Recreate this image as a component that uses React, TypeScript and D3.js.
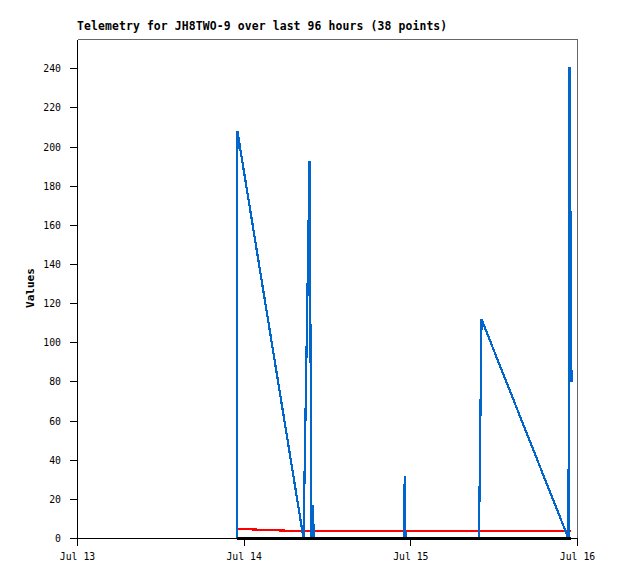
import React from "react";
import * as d3 from "d3";

const times: string[] = [
  "2023-07-13T22:56", "2023-07-13T23:02", "2023-07-14T08:33", "2023-07-14T09:25",
  "2023-07-14T09:42", "2023-07-14T09:53", "2023-07-14T10:02", "2023-07-14T23:01",
  "2023-07-14T23:07", "2023-07-14T23:14", "2023-07-15T09:49", "2023-07-15T10:11",
  "2023-07-15T22:42", "2023-07-15T22:51", "2023-07-15T23:08",
];
const blueValues: number[] = [0, 208, 0, 193, 0, 17, 0, 0, 32, 0, 0, 112, 0, 241, 80];
const redValues: number[] = [4.9, 4.9, 3.7, 3.7, 3.7, 3.7, 3.7, 3.7, 3.7, 3.7, 3.7, 3.7, 3.7, 3.7, 3.7];
const blackValues: number[] = [0, 0, 0, 0, 0, 0, 0, 0, 0, 0, 0, 0, 0, 0, 0];
const yTicks: number[] = [0, 20, 40, 60, 80, 100, 120, 140, 160, 180, 200, 220, 240];
const xTickDates: string[] = ["2023-07-13T00:00", "2023-07-14T00:00", "2023-07-15T00:00", "2023-07-16T00:00"];
const title = "Telemetry for JH8TWO-9 over last 96 hours (38 points)";

const W = 618, H = 579;
const L = 77.5, R = 577.5, T = 39.5, B = 538.5;

export default function App() {
  const parse = (s: string) => new Date(s);
  const x = d3.scaleTime().domain([parse(xTickDates[0]), parse(xTickDates[3])]).range([L, R]);
  const y = d3.scaleLinear().domain([0, 255]).range([B, T]);
  const fmt = d3.timeFormat("%b %-d");
  const mk = (vals: number[]) =>
    d3.line<number>().x((_, i) => x(parse(times[i]))).y((v) => y(v))(vals) || "";
  const mono = "'DejaVu Sans Mono', 'Liberation Mono', monospace";
  return (
    <svg width={W} height={H} style={{ position: "absolute", left: 0, top: 0, background: "#fff" }}>
      <rect x={0} y={0} width={W} height={H} fill="#fff" />
      <text x={77} y={30} fontFamily={mono} fontWeight="bold" fontSize={11.4} letterSpacing={0.13} fill="#000">{title}</text>
      <g shapeRendering="crispEdges">
        <line x1={L} x2={R} y1={T} y2={T} stroke="#666" />
        <line x1={R} x2={R} y1={T} y2={B} stroke="#666" />
      </g>
      <g shapeRendering="crispEdges" fill="none" strokeWidth={2.2}>
        <path d={mk(redValues)} stroke="#ff0000" />
        <path d={mk(blueValues)} stroke="#0066cc" />
        <path d={mk(blackValues)} stroke="#000" />
      </g>
      <g shapeRendering="crispEdges">
        <line x1={L} x2={L} y1={T} y2={B} stroke="#000" />
        <line x1={L - 8} x2={R} y1={B} y2={B} stroke="#000" />
        {yTicks.map((t) => (
          <line key={t} x1={L - 8} x2={L} y1={y(t)} y2={y(t)} stroke="#000" />
        ))}
        {xTickDates.map((d) => (
          <line key={d} x1={x(parse(d))} x2={x(parse(d))} y1={B} y2={B + 7} stroke="#000" />
        ))}
      </g>
      {yTicks.map((t) => (
        <text key={t} x={61} y={y(t)} dy="0.35em" textAnchor="end" fontFamily={mono} fontSize={9.8} fill="#000">{t}</text>
      ))}
      {xTickDates.map((d) => (
        <text key={d} x={x(parse(d))} y={560} textAnchor="middle" fontFamily={mono} fontSize={9.8} fill="#000">{fmt(parse(d))}</text>
      ))}
      <text transform="translate(34,288) rotate(-90)" textAnchor="middle" fontFamily={mono} fontWeight="bold" fontSize={11} fill="#000">Values</text>
    </svg>
  );
}
